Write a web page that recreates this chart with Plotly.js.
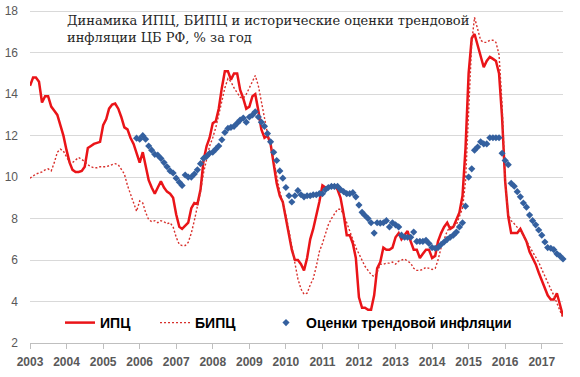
<!DOCTYPE html>
<html>
<head>
<meta charset="utf-8">
<script src="https://cdn.plot.ly/plotly-3.0.1.min.js"></script>
<style>
html,body{margin:0;padding:0;background:#ffffff;}
#chart{width:580px;height:377px;}
</style>
</head>
<body>
<div id="chart"></div>
<script>
// Monthly series, first month = January 2003
const seriesStart = '2003-01';
const trendStartMonth = '2005-12';
const yearLabels = ['2003','2004','2005','2006','2007','2008','2009','2010','2011','2012','2013','2014','2015','2016','2017'];
const yTicks = [2, 4, 6, 8, 10, 12, 14, 16, 18];
const seriesNames = ['ИПЦ', 'БИПЦ', 'Оценки трендовой инфляции'];
const titleText = 'Динамика ИПЦ, БИПЦ и исторические оценки трендовой<br>инфляции ЦБ РФ, % за год';

// ИПЦ, % y/y
const cpi = [
  14.4, 14.8, 14.8, 14.6, 13.6, 13.9, 13.9, 13.4, 13.2, 13.0, 12.5, 12.0,
  11.3, 10.7, 10.35, 10.25, 10.25, 10.3, 10.5, 11.4, 11.5, 11.6, 11.65, 11.7,
  12.5, 12.8, 13.3, 13.5, 13.55, 13.3, 12.9, 12.4, 12.3, 11.9, 11.6, 11.1,
  10.7, 11.2, 10.5, 9.85, 9.5, 9.2, 9.5, 9.8, 9.5, 9.3, 9.2, 9.0,
  8.2, 7.6, 7.5, 7.65, 7.8, 8.5, 8.75, 8.7, 9.4, 10.8, 11.5, 11.9,
  12.6, 12.7, 13.3, 14.3, 15.1, 15.1, 14.7, 15.0, 15.0, 14.2, 13.8, 13.3,
  13.4, 13.9, 14.0, 13.2, 12.3, 11.9, 12.0, 11.6, 10.7, 9.7, 9.1, 8.8,
  8.0, 7.2, 6.5, 6.0, 6.0, 5.8, 5.5, 6.1, 7.0, 7.5, 8.1, 8.8,
  9.6, 9.5, 9.5, 9.6, 9.6, 9.4, 9.0, 8.2, 7.2, 7.2, 6.8, 6.1,
  4.2, 3.7, 3.7, 3.6, 3.6, 4.3, 5.6, 5.9, 6.6, 6.5, 6.5, 6.6,
  7.1, 7.3, 7.0, 7.2, 7.4, 6.9, 6.5, 6.5, 6.1, 6.3, 6.5, 6.5,
  6.1, 6.2, 6.9, 7.3, 7.6, 7.8, 7.5, 7.6, 8.0, 8.3, 9.1, 11.4,
  15.0, 16.7, 16.9, 16.4, 15.8, 15.3, 15.6, 15.8, 15.7, 15.6, 15.0, 12.9,
  9.8, 8.1, 7.3, 7.3, 7.3, 7.5, 7.2, 6.9, 6.4, 6.1, 5.8, 5.4,
  5.0, 4.6, 4.3, 4.1, 4.1, 4.4, 3.9, 3.3
];

// БИПЦ, % y/y
const coreCpi = [
  9.95, 10.05, 10.15, 10.2, 10.25, 10.35, 10.4, 10.3, 10.7, 11.2, 11.35, 11.25,
  10.95, 10.7, 10.7, 10.85, 10.95, 10.85, 10.75, 10.6, 10.5, 10.45, 10.45, 10.5,
  10.5, 10.5, 10.55, 10.6, 10.65, 10.6, 10.4, 10.15, 9.6, 9.2, 8.7, 8.35,
  8.85, 8.75, 8.3, 7.95, 7.85, 7.9, 7.8, 7.9, 7.85, 7.75, 7.8, 7.6,
  7.1, 6.75, 6.7, 6.7, 6.85, 7.3, 7.9, 8.6, 9.3, 10.2, 10.9, 11.5,
  11.9, 12.4, 13.0, 13.7, 14.3, 14.75, 14.6, 14.3, 14.1, 13.85, 13.8, 14.0,
  14.3, 14.6, 14.9, 14.4, 13.6, 12.7, 12.1, 11.6, 10.8, 10.0, 9.3, 8.8,
  8.2, 7.4, 6.6, 5.85, 5.1, 4.6, 4.35, 4.4, 4.8, 5.1, 5.7, 6.4,
  6.8, 7.3, 7.7, 8.0, 8.25, 8.45, 8.45, 8.2, 7.8, 7.4, 7.0, 6.6,
  6.3, 6.0, 5.7, 5.5, 5.3, 5.2, 5.4, 5.8, 5.8, 5.85, 5.85, 5.9,
  5.8, 5.95, 6.0, 6.05, 5.95, 5.85, 5.6, 5.5, 5.5, 5.55, 5.65, 5.6,
  5.55, 5.6, 6.0, 6.6, 7.0, 7.4, 7.6, 7.65, 7.7, 8.1, 8.5, 9.8,
  13.5, 16.5, 17.7, 17.2, 16.6, 16.5, 16.5, 16.6, 16.6, 16.5, 15.9, 13.5,
  9.8, 8.2, 7.9, 7.75, 7.6, 7.4, 7.2, 6.9, 6.65, 6.4, 6.15, 5.9,
  5.55, 5.2, 4.9, 4.6, 4.3, 3.9, 3.5, 3.2
];

// Оценки трендовой инфляции, % (from December 2005)
const trend = [
  11.88,
  11.83, 12.0, 11.83, 11.5, 11.3, 11.1, 11.06, 10.9, 10.7, 10.5, 10.3, 10.2,
  9.95, 9.75, 9.6, 10.1, 10.0, 10.0, 10.15, 10.35, 10.65, 10.9, 11.0, 11.15,
  11.2, 11.35, 11.5, 11.8, 12.15, 12.35, 12.4, 12.45, 12.6, 12.75, 12.85, 12.65,
  12.9, 13.0, 13.15, 12.9, 12.65, 12.45, 12.1, 11.7, 11.2, 10.8, 10.3, 9.95,
  9.5, 9.1, 8.8, 9.1, 9.35, 9.15, 9.05, 9.1, 9.1, 9.15, 9.15, 9.2,
  9.2, 9.4, 9.5, 9.55, 9.55, 9.55, 9.4, 9.3, 9.2, 9.2, 9.25, 9.05,
  8.65, 8.3, 8.15, 8.0, 7.8, 7.3, 7.8, 7.78, 7.8, 7.9, 7.6, 7.8,
  7.7, 7.6, 7.2, 7.1, 7.1, 7.1, 7.35, 6.9, 6.9, 6.9, 6.95, 6.8,
  6.6, 6.57, 6.6, 6.75, 6.87, 7.0, 7.1, 7.2, 7.35, 7.6, 7.8, 8.6,
  10.0, 10.4, 11.3, 11.45, 11.7, 11.6, 11.6, 11.9, 11.9, 11.9, 11.9, 11.15,
  10.8, 10.6, 9.7, 9.56, 9.3, 9.05, 8.75, 8.55, 8.17, 7.9, 7.7, 7.45,
  7.2, 6.87, 6.6, 6.57, 6.5, 6.3, 6.2, 6.05
];

function monthSeq(start, n) {
  const [y0, m0] = start.split('-').map(Number);
  const out = [];
  for (let i = 0; i < n; i++) {
    const t = (m0 - 1) + i;
    const y = y0 + Math.floor(t / 12);
    const m = (t % 12) + 1;
    out.push(y + '-' + String(m).padStart(2, '0') + '-01');
  }
  return out;
}

const xMain = monthSeq(seriesStart, cpi.length);
const xTrend = monthSeq(trendStartMonth, trend.length);
const tickVals = yearLabels.map(y => y + '-01-01');

// value 2 at y=343, value 18 at y=11 -> 20.75 px per unit; axis top extended to 18.3
const YMIN = 2, YMAX = 18.3, PXU = 20.75;
const PL = 30, PR = 563, PB = 343;
const PT = Math.round(PB - (YMAX - YMIN) * PXU);
const px = v => (v - PL) / (PR - PL);
const py = v => (PB - v) / (PB - PT);

const legendFont = {family: 'Liberation Sans, Arial, sans-serif', size: 14, color: '#000000', weight: 700};
const legendBase = {orientation: 'h', xref: 'paper', yref: 'paper', xanchor: 'left', yanchor: 'middle',
  y: py(323), bgcolor: 'rgba(0,0,0,0)', borderwidth: 0, font: legendFont};

const traces = [
  {x: xMain, y: cpi, name: seriesNames[0], type: 'scatter', mode: 'lines',
   line: {color: '#ea1418', width: 2.5}, legend: 'legend'},
  {x: xMain, y: coreCpi, name: seriesNames[1], type: 'scatter', mode: 'lines',
   line: {color: '#d8302c', width: 1.4, dash: '2px,2px'}, legend: 'legend2'},
  {x: xTrend, y: trend, name: seriesNames[2], type: 'scatter', mode: 'markers',
   marker: {symbol: 'diamond', size: 5.5, color: '#34609f'}, cliponaxis: false, legend: 'legend3'}
];

const layout = {
  width: 580, height: 377,
  margin: {l: PL, r: 580 - PR, t: PT, b: 377 - PB, autoexpand: false},
  paper_bgcolor: '#ffffff', plot_bgcolor: '#ffffff',
  showlegend: true,
  title: {text: titleText, font: {family: 'DejaVu Serif, serif', size: 13, color: '#262626'},
          x: 67/580, xref: 'container', xanchor: 'left', y: 1 - 25/377, yref: 'container', yanchor: 'top'},
  xaxis: {type: 'date', range: [xMain[0], xMain[xMain.length - 1]],
          tickvals: tickVals, ticktext: yearLabels,
          showgrid: false, zeroline: false, showline: true, linecolor: '#bfbfbf', linewidth: 1,
          ticks: 'outside', ticklen: 5, tickcolor: '#bfbfbf', ticklabelstandoff: 3,
          tickfont: {family: 'Liberation Sans, Arial, sans-serif', size: 12, color: '#595959', weight: 700},
          fixedrange: true},
  yaxis: {range: [YMIN, YMAX], tickmode: 'array', tickvals: yTicks, ticktext: yTicks.map(String),
          showgrid: true, gridcolor: '#d9d9d9', gridwidth: 1,
          zeroline: false, showline: false, ticks: '', ticklabelstandoff: 11, ticklabeloverflow: 'allow',
          tickfont: {family: 'Liberation Sans, Arial, sans-serif', size: 12, color: '#595959'},
          fixedrange: true},
  legend: Object.assign({}, legendBase, {x: px(60)}),
  legend2: Object.assign({}, legendBase, {x: px(155)}),
  legend3: Object.assign({}, legendBase, {x: px(266)})
};

Plotly.newPlot('chart', traces, layout, {displayModeBar: false, staticPlot: true});
</script>
</body>
</html>
